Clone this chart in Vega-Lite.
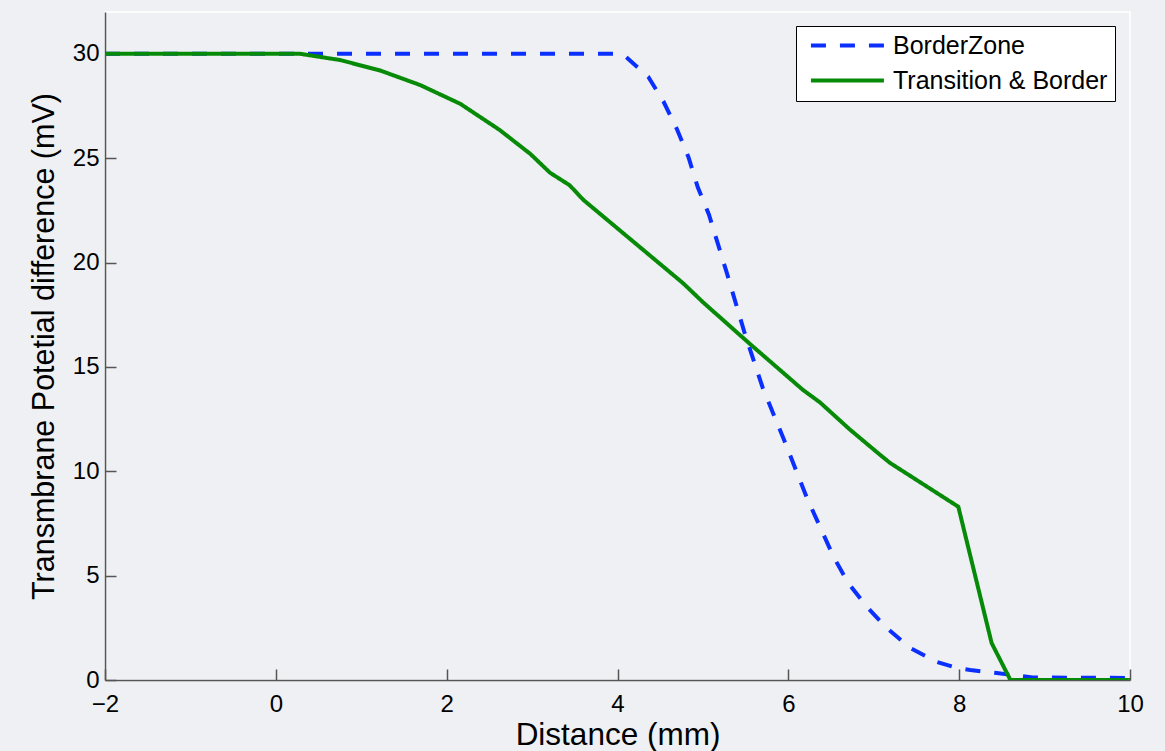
{
  "$schema": "https://vega.github.io/schema/vega-lite/v6.json",
  "width": 1025,
  "height": 668,
  "autosize": {"type": "none"},
  "padding": {"left": 105, "top": 12, "right": 35, "bottom": 71},
  "background": "#eef0f3",
  "config": {
    "font": "Liberation Sans",
    "view": {"stroke": "#ffffff", "strokeWidth": 1.5, "fill": "#eef0f3"}
  },
  "data": {
    "values": [
      {"x": -2, "y": 30, "series": "BorderZone"},
      {"x": 4.0, "y": 30, "series": "BorderZone"},
      {"x": 4.1, "y": 29.85, "series": "BorderZone"},
      {"x": 4.36, "y": 28.9, "series": "BorderZone"},
      {"x": 4.54, "y": 27.7, "series": "BorderZone"},
      {"x": 4.7, "y": 26.35, "series": "BorderZone"},
      {"x": 4.83, "y": 25.06, "series": "BorderZone"},
      {"x": 4.94, "y": 23.6, "series": "BorderZone"},
      {"x": 5.07, "y": 22.3, "series": "BorderZone"},
      {"x": 5.28, "y": 19.5, "series": "BorderZone"},
      {"x": 5.49, "y": 16.6, "series": "BorderZone"},
      {"x": 5.7, "y": 14.0, "series": "BorderZone"},
      {"x": 5.96, "y": 11.4, "series": "BorderZone"},
      {"x": 6.22, "y": 8.7, "series": "BorderZone"},
      {"x": 6.53, "y": 5.9, "series": "BorderZone"},
      {"x": 6.7, "y": 4.65, "series": "BorderZone"},
      {"x": 6.92, "y": 3.5, "series": "BorderZone"},
      {"x": 7.15, "y": 2.5, "series": "BorderZone"},
      {"x": 7.43, "y": 1.53, "series": "BorderZone"},
      {"x": 7.74, "y": 0.86, "series": "BorderZone"},
      {"x": 7.98, "y": 0.57, "series": "BorderZone"},
      {"x": 8.13, "y": 0.48, "series": "BorderZone"},
      {"x": 8.44, "y": 0.33, "series": "BorderZone"},
      {"x": 8.86, "y": 0.12, "series": "BorderZone"},
      {"x": 10, "y": 0.1, "series": "BorderZone"},
      {"x": -2, "y": 30, "series": "Transition & Border"},
      {"x": 0.28, "y": 30, "series": "Transition & Border"},
      {"x": 0.75, "y": 29.7, "series": "Transition & Border"},
      {"x": 1.22, "y": 29.2, "series": "Transition & Border"},
      {"x": 1.69, "y": 28.5, "series": "Transition & Border"},
      {"x": 2.16, "y": 27.6, "series": "Transition & Border"},
      {"x": 2.62, "y": 26.35, "series": "Transition & Border"},
      {"x": 2.98, "y": 25.2, "series": "Transition & Border"},
      {"x": 3.21, "y": 24.3, "series": "Transition & Border"},
      {"x": 3.44, "y": 23.7, "series": "Transition & Border"},
      {"x": 3.6, "y": 23.0, "series": "Transition & Border"},
      {"x": 4.77, "y": 19.0, "series": "Transition & Border"},
      {"x": 5.0, "y": 18.1, "series": "Transition & Border"},
      {"x": 5.55, "y": 16.1, "series": "Transition & Border"},
      {"x": 6.17, "y": 13.9, "series": "Transition & Border"},
      {"x": 6.37, "y": 13.3, "series": "Transition & Border"},
      {"x": 6.72, "y": 12.0, "series": "Transition & Border"},
      {"x": 7.07, "y": 10.8, "series": "Transition & Border"},
      {"x": 7.19, "y": 10.4, "series": "Transition & Border"},
      {"x": 7.99, "y": 8.3, "series": "Transition & Border"},
      {"x": 8.38, "y": 1.77, "series": "Transition & Border"},
      {"x": 8.6, "y": 0, "series": "Transition & Border"},
      {"x": 10, "y": 0, "series": "Transition & Border"}
    ]
  },
  "mark": {"type": "line", "strokeWidth": 4, "clip": true},
  "encoding": {
    "x": {
      "field": "x", "type": "quantitative",
      "scale": {"domain": [-2, 10], "nice": false, "zero": false},
      "axis": {
        "title": "Distance (mm)", "values": [-2, 0, 2, 4, 6, 8, 10],
        "grid": false, "domainColor": "#555555", "domainWidth": 1.5,
        "tickColor": "#555555", "tickSize": -11, "tickWidth": 1.5,
        "labelFontSize": 24, "labelColor": "#000000", "labelPadding": 23,
        "labelFlush": false,
        "titleFontSize": 31.5, "titleFontWeight": "normal", "titleColor": "#000000",
        "titlePadding": 3, "titleLimit": 2000
      }
    },
    "y": {
      "field": "y", "type": "quantitative",
      "scale": {"domain": [0, 32], "nice": false},
      "axis": {
        "title": "Transmbrane Potetial difference (mV)", "values": [0, 5, 10, 15, 20, 25, 30],
        "grid": false, "domainColor": "#555555", "domainWidth": 1.5,
        "tickColor": "#555555", "tickSize": -11, "tickWidth": 1.5,
        "labelFontSize": 24, "labelColor": "#000000", "labelPadding": 17,
        "labelFlush": false,
        "titleFontSize": 30.5, "titleFontWeight": "normal", "titleColor": "#000000",
        "titlePadding": 13, "titleLimit": 2000
      }
    },
    "color": {
      "field": "series", "type": "nominal",
      "scale": {"domain": ["BorderZone", "Transition & Border"], "range": ["#0a2fff", "#078a07"]},
      "legend": {
        "title": null, "orient": "none", "legendX": 691, "legendY": 14,
        "fillColor": "#ffffff", "strokeColor": "#000000", "padding": 7,
        "labelFontSize": 25, "labelColor": "#000000", "labelOffset": 65, "labelLimit": 500,
        "symbolType": "M-0.5,0H7.5", "symbolSize": 333, "symbolStrokeWidth": 4,
        "rowPadding": 9
      }
    },
    "strokeDash": {
      "field": "series", "type": "nominal",
      "scale": {"domain": ["BorderZone", "Transition & Border"], "range": [[15, 14], [1, 0]]},
      "legend": {
        "title": null, "orient": "none", "legendX": 691, "legendY": 14,
        "fillColor": "#ffffff", "strokeColor": "#000000", "padding": 7,
        "labelFontSize": 25, "labelColor": "#000000", "labelOffset": 65, "labelLimit": 500,
        "symbolType": "M-0.5,0H7.5", "symbolSize": 333, "symbolStrokeWidth": 4,
        "rowPadding": 9
      }
    }
  }
}
